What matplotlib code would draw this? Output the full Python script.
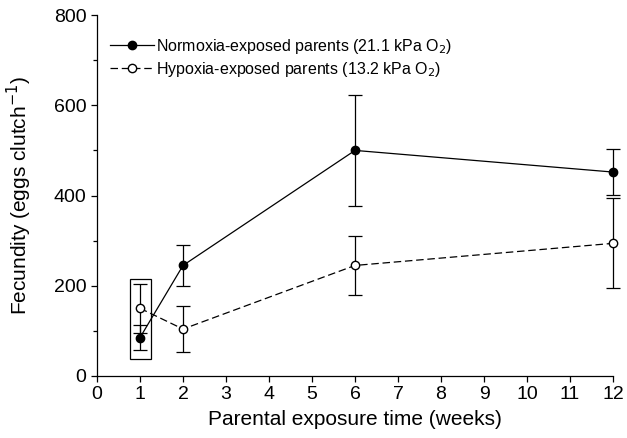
"""Fecundity vs parental exposure time"""
import matplotlib
matplotlib.use("Agg")
import matplotlib.pyplot as plt
from matplotlib.lines import Line2D
from matplotlib.patches import Rectangle
from matplotlib.ticker import MultipleLocator

plt.rcParams['font.family'] = ['Liberation Sans', 'DejaVu Sans']

weeks = [1, 2, 6, 12]
normoxia = [85, 245, 500, 452]
normoxia_err = [28, 45, 123, 51]
hypoxia = [150, 104, 245, 294]
hypoxia_err = [54, 51, 66, 100]
labels = ['Normoxia-exposed parents (21.1 kPa O$_2$)',
          'Hypoxia-exposed parents (13.2 kPa O$_2$)']


def plot():
    """Plot the graph"""
    fig = plt.figure(figsize=(6.27, 4.38), dpi=100)
    ax = fig.add_axes([0.1547, 0.1416, 0.823, 0.824])

    dash = (0, (6, 3))
    for vals, errs, face, ls, z in ((normoxia, normoxia_err, 'black', '-', 3),
                                    (hypoxia, hypoxia_err, 'white', dash, 4)):
        _, caps, bars = ax.errorbar(weeks, vals, yerr=errs, color='black',
                                    lw=0.9, ls=ls, marker='o', ms=6,
                                    mfc=face, mec='black', capsize=5,
                                    elinewidth=0.9, capthick=0.9, zorder=z)
        for art in list(caps) + list(bars):
            art.set_clip_on(False)
    for line in ax.lines:
        line.set_clip_on(False)

    # box around the week 1 points
    ax.add_patch(Rectangle((0.76, 37), 0.5, 179, fill=False, ec='black',
                           lw=0.9, zorder=2))

    ax.set_xlim(0, 12)
    ax.set_ylim(0, 800)
    ax.xaxis.set_major_locator(MultipleLocator(1))
    ax.yaxis.set_major_locator(MultipleLocator(200))
    ax.yaxis.set_minor_locator(MultipleLocator(100))
    ax.spines['top'].set_visible(False)
    ax.spines['right'].set_visible(False)
    for side in ('left', 'bottom'):
        ax.spines[side].set_linewidth(0.9)
    ax.tick_params(which='major', direction='out', length=4, width=0.9,
                   labelsize=14)
    ax.tick_params(which='minor', direction='out', length=3, width=0.9)
    ax.set_xlabel('Parental exposure time (weeks)', fontsize=15, labelpad=5)
    ax.set_ylabel('Fecundity (eggs clutch$^{-1}$)', fontsize=15, labelpad=14)

    handles = [Line2D([], [], color='black', lw=0.9, marker='o', ms=6,
                      mfc='black', mec='black'),
               Line2D([], [], color='black', lw=0.9, ls=dash, marker='o',
                      ms=6, mfc='white', mec='black')]
    ax.legend(handles, labels, loc='upper left', bbox_to_anchor=(0.0, 0.975),
              frameon=False, fontsize=11.5, handlelength=2.8,
              handletextpad=0.1, labelspacing=0.25, borderaxespad=0.4)
    fig.savefig('out.png', dpi=100)


plot()
